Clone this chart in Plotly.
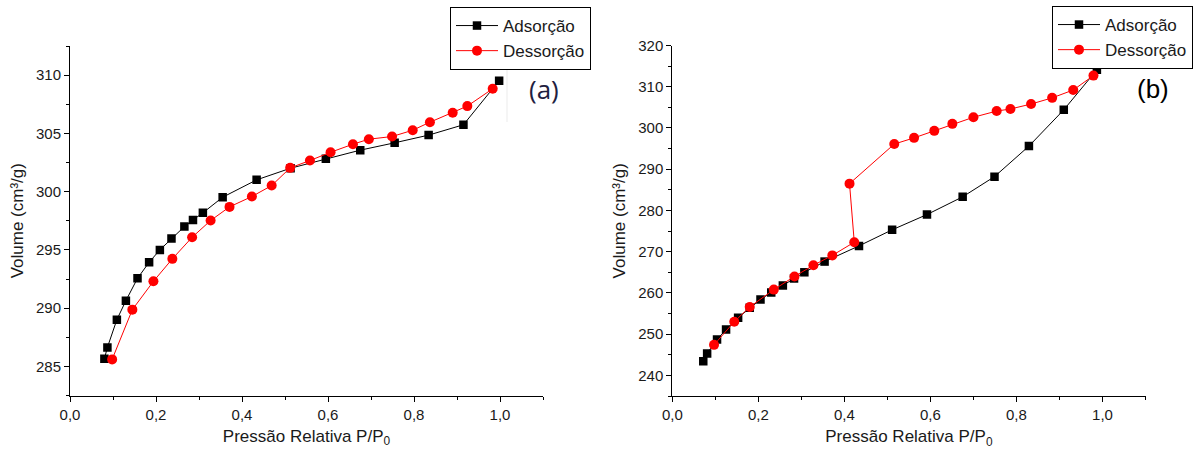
import plotly.graph_objects as go

# ---- Data ----
# (a) left panel
a_ads_p = [0.080, 0.087, 0.109, 0.130, 0.157, 0.184, 0.209, 0.236, 0.266, 0.286,
           0.309, 0.355, 0.434, 0.513, 0.595, 0.675, 0.755, 0.834, 0.915, 0.998]
a_ads_v = [285.66, 286.63, 289.01, 290.64, 292.56, 293.93, 295.00, 295.97, 297.00, 297.57,
           298.18, 299.52, 301.01, 302.01, 302.82, 303.56, 304.19, 304.85, 305.74, 309.52]
a_des_p = [0.098, 0.145, 0.194, 0.238, 0.284, 0.327, 0.371, 0.423, 0.469, 0.512,
           0.558, 0.606, 0.658, 0.695, 0.749, 0.797, 0.837, 0.890, 0.924, 0.983]
a_des_v = [285.60, 289.87, 292.30, 294.23, 296.08, 297.52, 298.69, 299.58, 300.52, 302.04,
           302.67, 303.38, 304.07, 304.50, 304.73, 305.27, 305.96, 306.77, 307.34, 308.83]

# (b) right panel
b_ads_p = [0.072, 0.081, 0.104, 0.125, 0.153, 0.180, 0.205, 0.230, 0.257, 0.283,
           0.307, 0.354, 0.434, 0.511, 0.592, 0.675, 0.749, 0.829, 0.910, 0.987]
b_ads_v = [243.4, 245.3, 248.7, 251.1, 254.0, 256.4, 258.4, 260.1, 261.8, 263.5,
           265.0, 267.6, 271.4, 275.3, 279.0, 283.3, 288.2, 295.6, 304.4, 314.1]
b_des_p = [0.097, 0.144, 0.180, 0.236, 0.284, 0.328, 0.372, 0.423, 0.412, 0.516,
           0.562, 0.609, 0.651, 0.700, 0.754, 0.786, 0.834, 0.883, 0.932, 0.979]
b_des_v = [247.4, 253.0, 256.6, 260.8, 264.0, 266.7, 269.1, 272.3, 286.5, 296.1,
           297.6, 299.3, 301.0, 302.6, 304.1, 304.6, 305.8, 307.3, 309.2, 312.7]

ads_name = "Adsorção"
des_name = "Dessorção"
x_title = "Pressão Relativa P/P<sub>0</sub>"
y_title = "Volume (cm³/g)"

FONT = "Liberation Sans, Arial, sans-serif"
TXT = "#1a1a1a"

fig = go.Figure()

def add_pair(xa, ya, xd, yd, xref, yref, legend):
    fig.add_trace(go.Scatter(
        x=xa, y=ya, mode="lines+markers", name=ads_name,
        line=dict(color="black", width=1),
        marker=dict(symbol="square", size=8.5, color="black"),
        xaxis=xref, yaxis=yref, legend=legend))
    fig.add_trace(go.Scatter(
        x=xd, y=yd, mode="lines+markers", name=des_name,
        line=dict(color="#ff0000", width=1),
        marker=dict(symbol="circle", size=10, color="#ff0000"),
        xaxis=xref, yaxis=yref, legend=legend))

add_pair(a_ads_p, a_ads_v, a_des_p, a_des_v, "x", "y", "legend")
add_pair(b_ads_p, b_ads_v, b_des_p, b_des_v, "x2", "y2", "legend2")

common_x = dict(
    range=[0, 1.1], showline=True, linecolor="black", linewidth=1,
    ticks="outside", ticklen=5, tickwidth=1, tickcolor="black",
    dtick=0.2, tick0=0, tickformat=".1f", automargin=False,
    minor=dict(ticks="outside", ticklen=3, tickwidth=1, tickcolor="black", dtick=0.1),
    showgrid=False, zeroline=False,
    tickfont=dict(family=FONT, size=15, color=TXT),
    title=dict(text=x_title, font=dict(family=FONT, size=17, color=TXT), standoff=8),
)
common_y = dict(
    showline=True, linecolor="black", linewidth=1,
    ticks="outside", ticklen=5, tickwidth=1, tickcolor="black",
    showgrid=False, zeroline=False, automargin=False,
    tickfont=dict(family=FONT, size=15, color=TXT),
    title=dict(text=y_title, font=dict(family=FONT, size=17, color=TXT), standoff=8),
)

legend_common = dict(xanchor="left", yanchor="top",
                     bordercolor="black", borderwidth=1, bgcolor="white",
                     font=dict(family=FONT, size=17, color=TXT), tracegroupgap=0,
                     itemwidth=42, entrywidth=115)

fig.update_layout(
    width=1200, height=452,
    margin=dict(l=0, r=0, t=0, b=0, autoexpand=False),
    paper_bgcolor="white", plot_bgcolor="white",
    separators=", ",
    xaxis=dict(domain=[70 / 1200, 543 / 1200], anchor="y", **common_x),
    yaxis=dict(domain=[(452 - 395.5) / 452, (452 - 46) / 452], anchor="x",
               range=[282.5, 312.5], dtick=5, tick0=0,
               minor=dict(ticks="outside", ticklen=3, tickwidth=1, tickcolor="black", dtick=2.5),
               **common_y),
    xaxis2=dict(domain=[672.3 / 1200, 1145.5 / 1200], anchor="y2", **common_x),
    yaxis2=dict(domain=[(452 - 396) / 452, (452 - 45.5) / 452], anchor="x2",
                range=[235, 320], dtick=10, tick0=0,
                minor=dict(ticks="outside", ticklen=3, tickwidth=1, tickcolor="black", dtick=5),
                **common_y),
    legend=dict(x=450 / 1200, y=1 - 7 / 452, **legend_common),
    legend2=dict(x=1052 / 1200, y=1 - 6 / 452, **legend_common),
    annotations=[
        dict(text="(a)", x=544 / 1200, y=1 - 89 / 452, xref="paper", yref="paper",
             xanchor="center", yanchor="middle", showarrow=False,
             font=dict(family="Open Sans, sans-serif", size=26, color="#1f2140")),
        dict(text="(b)", x=1153 / 1200, y=1 - 89 / 452, xref="paper", yref="paper",
             xanchor="center", yanchor="middle", showarrow=False,
             font=dict(family=FONT, size=26, color="black")),
    ],
    shapes=[
        dict(type="line", xref="paper", yref="paper",
             x0=507 / 1200, x1=507 / 1200, y0=1 - 60 / 452, y1=1 - 122 / 452,
             line=dict(color="rgba(0,0,0,0.08)", width=1)),
    ],
)

fig.write_html("out.html")
